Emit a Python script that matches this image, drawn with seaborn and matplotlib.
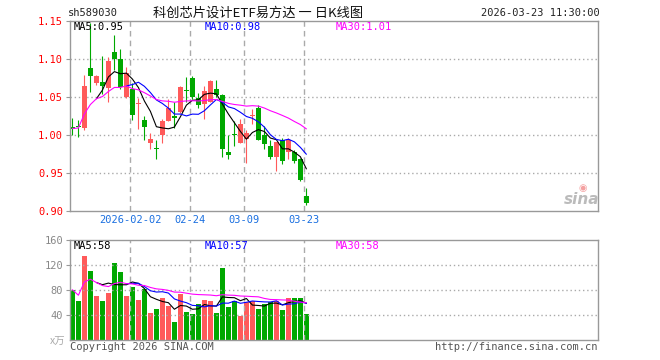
import matplotlib
matplotlib.use("Agg")
import matplotlib.pyplot as plt
import seaborn as sns
import numpy as np
import pandas as pd

# daily candles, 2026-01-19 .. 2026-03-23 (40 trading days)
opens = [1.010, 1.011, 1.009, 1.088, 1.068, 1.070, 1.062, 1.109, 1.100, 1.050,
         1.061, 1.0405, 1.020, 0.990, 0.983, 1.000, 1.019, 1.025, 1.030, 1.058,
         1.075, 1.049, 1.041, 1.044, 1.060, 1.053, 0.978, 1.001, 0.989, 0.995,
         1.025, 1.036, 1.000, 0.986, 0.971, 0.993, 0.978, 0.978, 0.968, 0.920]
highs = [1.022, 1.020, 1.079, 1.148, 1.079, 1.104, 1.103, 1.132, 1.113, 1.090,
         1.068, 1.049, 1.025, 1.003, 0.994, 1.021, 1.047, 1.043, 1.065, 1.076,
         1.078, 1.055, 1.065, 1.073, 1.072, 1.054, 1.000, 1.018, 1.021, 1.007,
         1.034, 1.039, 1.012, 0.993, 0.991, 0.996, 0.996, 0.980, 0.970, 0.930]
lows = [1.000, 0.998, 1.007, 1.056, 1.066, 1.054, 1.044, 1.086, 1.060, 1.049,
        1.020, 1.008, 0.993, 0.981, 0.968, 0.989, 1.018, 1.009, 1.029, 1.044,
        1.047, 1.035, 1.021, 1.044, 1.050, 0.971, 0.968, 0.985, 0.989, 0.963,
        1.015, 0.993, 0.981, 0.968, 0.953, 0.962, 0.968, 0.963, 0.939, 0.908]
closes = [1.0085, 1.010, 1.065, 1.077, 1.078, 1.065, 1.097, 1.100, 1.063, 1.082,
          1.026, 1.0415, 1.011, 0.995, 0.981, 1.018, 1.036, 1.022, 1.063, 1.0575,
          1.050, 1.039, 1.058, 1.071, 1.053, 0.982, 0.974, 1.0005, 1.014, 1.002,
          1.026, 0.993, 0.988, 0.971, 0.991, 0.966, 0.993, 0.966, 0.941, 0.911]
# volume in 10k shares
volumes = [80.0, 62.4, 135.0, 110.4, 70.4, 62.4, 75.2, 123.2, 108.8, 70.4,
           84.8, 64.0, 81.6, 43.2, 49.6, 67.2, 54.4, 28.8, 73.6, 44.8,
           41.6, 57.6, 64.0, 62.4, 43.2, 115.2, 52.8, 62.4, 38.4, 60.8,
           62.4, 49.6, 57.6, 60.8, 62.4, 48.0, 67.2, 67.2, 67.2, 41.6]

tick_idx = [10, 20, 29, 39]
tick_labels = ["2026-02-02", "02-24", "03-09", "03-23"]
price_ticks = [0.90, 0.95, 1.00, 1.05, 1.10, 1.15]
vol_ticks = [40, 80, 120, 160]

price_ma_text = ["MA5:0.95", "MA10:0.98", "MA30:1.01"]
vol_ma_text = ["MA5:58", "MA10:57", "MA30:58"]

RED = "#FF5A5A"
GREEN = "#00A800"
GRID = "#AAAAAA"
FRAME = "#999999"
MA_COLORS = ["black", "#0000FF", "#FF00FF"]

df = pd.DataFrame({"o": opens, "h": highs, "l": lows, "c": closes, "v": volumes})
df["i"] = np.arange(len(df))
df["up"] = np.where(df["c"] >= df["o"], "up", "down")
df["ma5"] = df["c"].rolling(5).mean()
df["ma10"] = df["c"].rolling(10).mean()
df["ma30"] = df["c"].rolling(30, min_periods=1).mean()
df["vma5"] = df["v"].rolling(5).mean()
df["vma10"] = df["v"].rolling(10).mean()
df["vma30"] = df["v"].rolling(30, min_periods=1).mean()

sns.set_theme(style="white")
plt.rcParams["font.family"] = ["DejaVu Sans Mono"]

fig = plt.figure(figsize=(6.6, 3.6), dpi=100)
ax = fig.add_axes([70 / 660, 1 - 211 / 360, 528 / 660, 190 / 360])
axv = fig.add_axes([70 / 660, 1 - 339.5 / 360, 528 / 660, 99.5 / 360])

colors = [RED if u == "up" else GREEN for u in df["up"]]

# candles
ax.vlines(df["i"], df["l"], df["h"], colors=colors, lw=0.8, zorder=2)
body_lo = np.minimum(df["o"], df["c"])
body_h = np.maximum(np.abs(df["c"] - df["o"]), 0.0012)
ax.bar(df["i"], body_h, bottom=body_lo, width=0.8, color=colors, zorder=2, linewidth=0)

for col, clr in zip(["ma5", "ma10", "ma30"], MA_COLORS):
    sns.lineplot(x=df["i"], y=df[col], color=clr, lw=0.8, ax=ax, estimator=None, zorder=3)

# volume
sns.barplot(x=df["i"], y=df["v"], hue=df["up"], palette={"up": RED, "down": GREEN},
            dodge=False, legend=False, width=0.8, native_scale=True, saturation=1,
            errorbar=None, linewidth=0, ax=axv)
for col, clr in zip(["vma5", "vma10", "vma30"], MA_COLORS):
    sns.lineplot(x=df["i"], y=df[col], color=clr, lw=0.8, ax=axv, estimator=None, zorder=3)

grid_x = [t - 0.35 for t in tick_idx]
for a, lo, hi in [(ax, 0.90, 1.15), (axv, 0, 160)]:
    a.set_xlim(-0.4, 87.6)
    a.set_ylim(lo, hi)
    for gx in grid_x:
        a.axvline(gx, color=GRID, lw=1, ls=(0, (4, 3)), zorder=1)
    for s in a.spines.values():
        s.set_color(FRAME)
        s.set_linewidth(1)
    a.set_xlabel("")
    a.set_ylabel("")
    a.tick_params(axis="y", left=True, length=3, width=0.8, color=FRAME, pad=2)

for p in price_ticks[1:-1]:
    ax.axhline(p, color=GRID, lw=1, ls=(0, (1, 2)), zorder=1)
for v in vol_ticks[:-1]:
    axv.axhline(v, color=GRID, lw=1, ls=(0, (1, 2)), zorder=1)

ax.set_yticks(price_ticks)
ax.set_yticklabels([f"{p:.2f}" for p in price_ticks], color="#FF0000", fontsize=7.5)
ax.set_xticks(grid_x)
ax.set_xticklabels(tick_labels, color="#1A6FE0", fontsize=7.5)
ax.tick_params(axis="x", length=0, pad=3)

axv.set_yticks(vol_ticks)
axv.set_yticklabels([str(v) for v in vol_ticks], color="#888888", fontsize=7.5)
axv.set_xticks([])

# MA legends inside panels
for txt, clr, x in zip(price_ma_text, MA_COLORS, [74, 205, 336]):
    fig.text(x / 660, 1 - 27 / 360, txt, color=clr, fontsize=7.5, va="center")
for txt, clr, x in zip(vol_ma_text, MA_COLORS, [74, 205, 336]):
    fig.text(x / 660, 1 - 246 / 360, txt, color=clr, fontsize=7.5, va="center")

# header
fig.text(68 / 660, 1 - 13 / 360, "sh589030", fontsize=7.5, va="center", color="#222222")
fig.text(258 / 660, 1 - 13 / 360, "科创芯片设计ETF易方达 一 日K线图", fontsize=9.5,
         ha="center", va="center", family=["Noto Sans CJK SC", "DejaVu Sans"], color="#111111")
fig.text(600 / 660, 1 - 13 / 360, "2026-03-23 11:30:00", fontsize=7.5, ha="right",
         va="center", color="#222222")

# footer
fig.text(70 / 660, 1 - 347 / 360, "Copyright 2026 SINA.COM", fontsize=7.5, va="center",
         color="#555555")
fig.text(598 / 660, 1 - 347 / 360, "http://finance.sina.com.cn", fontsize=7.5, ha="right",
         va="center", color="#555555")
fig.text(65 / 660, 1 - 342 / 360, "x万", fontsize=7.5, ha="right", va="center",
         color="#AAAAAA", family=["Noto Sans CJK SC", "DejaVu Sans"])

# watermark
fig.text(582 / 660, 1 - 200 / 360, "sina", fontsize=11, style="italic", weight="bold",
         ha="center", va="center", color="#BBBBBB", family="DejaVu Sans")
fig.text(583 / 660, 1 - 188 / 360, "◉", fontsize=7, ha="center", va="center",
         color="#F4A0A0", family="DejaVu Sans")

fig.savefig("out.png", dpi=100)
